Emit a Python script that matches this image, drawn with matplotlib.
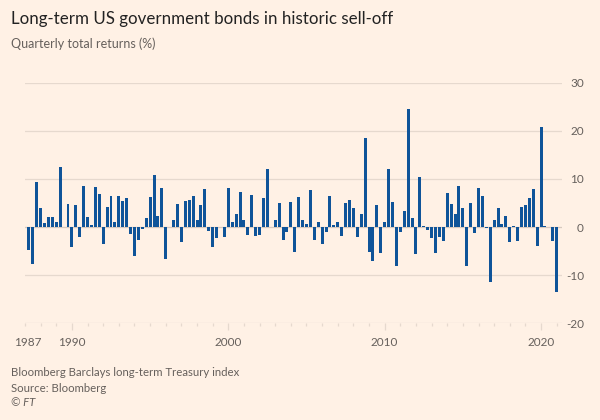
import numpy as np
import pandas as pd
import matplotlib
matplotlib.use('Agg')
import matplotlib.pyplot as plt

# Quarterly total returns (%), Bloomberg Barclays long-term Treasury index
first_quarter = '1987Q2'
returns = [
    -4.8, -7.6, 9.4, 4.0, 0.8, 2.1, 2.1, 1.1, 12.4, 0.1,
    4.8, -4.2, 4.5, -2.1, 8.6, 2.1, 0.4, 8.3, 6.8, -3.5,
    4.2, 6.5, 1.0, 6.4, 5.4, 6.0, -1.4, -6.0, -2.7, -0.5,
    1.9, 6.3, 10.8, 2.4, 8.1, -6.6, 0.1, 1.5, 4.8, -3.2,
    5.5, 5.7, 6.5, 1.5, 4.6, 7.9, -0.9, -4.2, -2.3, 0.1,
    -2.0, 8.1, 1.0, 2.8, 7.2, 1.4, -1.7, 6.6, -1.9, -1.6,
    6.0, 12.1, 0.1, 1.4, 5.0, -2.6, -1.1, 5.3, -5.2, 6.3,
    1.5, 0.6, 7.7, -2.6, 1.1, -3.6, -1.0, 6.4, 0.4, 1.1,
    -1.9, 4.9, 5.7, 4.0, -2.1, 2.8, 18.6, -5.2, -7.0, 4.6,
    -5.3, 1.0, 12.1, 5.2, -8.1, -1.0, 3.4, 24.6, 1.9, -5.7,
    10.5, 0.3, -0.6, -2.3, -5.4, -2.1, -3.0, 7.1, 4.8, 2.7,
    8.6, 4.0, -8.1, 5.0, -1.3, 8.1, 6.4, -0.2, -11.5, 1.4,
    3.9, 0.6, 2.3, -3.2, 0.3, -2.8, 4.1, 4.6, 6.0, 7.9,
    -4.0, 20.8, 0.3, 0.1, -3.0, -13.5,
]
y_ticks = [-20, -10, 0, 10, 20, 30]
year_labels = [1990, 2000, 2010, 2020]

title = 'Long-term US government bonds in historic sell-off'
subtitle = 'Quarterly total returns (%)'
footer = ['Bloomberg Barclays long-term Treasury index', 'Source: Bloomberg']

BG = '#fff1e5'
BAR = '#0f5499'
GRID = '#e6d9ce'
TEXT = '#66605c'

plt.rcParams['font.family'] = ['Lato', 'DejaVu Sans']
plt.rcParams['axes.unicode_minus'] = False

# quarters as decimal years
periods = pd.period_range(first_quarter, periods=len(returns), freq='Q')
x = np.array([p.year + (p.quarter - 1) / 4 for p in periods])

fig = plt.figure(figsize=(6, 4.2), dpi=100, facecolor=BG)
ax = fig.add_axes([25 / 600, 96.7 / 420, 536.7 / 600, 240.6 / 420])
ax.set_facecolor(BG)

for v in y_ticks:
    ax.axhline(v, color='#d6c9be' if v == 0 else GRID, linewidth=0.9, zorder=0)

ax.bar(x, returns, width=0.19, color=BAR, linewidth=0, zorder=2)

ax.set_xlim(1987.0, 2021.32)
ax.set_ylim(-20, 30)
for s in ax.spines.values():
    s.set_visible(False)

# y labels on the right
ax.yaxis.tick_right()
ax.set_yticks(y_ticks)
ax.tick_params(axis='y', length=0, pad=16, labelsize=8.5, labelcolor=TEXT)
for lab in ax.get_yticklabels():
    lab.set_horizontalalignment('right')

# x ticks: every year short, decades long
ax.set_xticks(year_labels)
ax.set_xticks(np.arange(1987, 2022), minor=True)
ax.tick_params(axis='x', which='major', length=5, width=0.9, color=GRID,
               pad=5, labelsize=8.5, labelcolor=TEXT)
ax.tick_params(axis='x', which='minor', length=2.4, width=0.9, color=GRID)
ax.annotate('1987', xy=(1987.2, 0), xycoords=ax.get_xaxis_transform(),
            xytext=(0, -10), textcoords='offset points',
            ha='center', va='top', fontsize=8.5, color=TEXT)

fig.text(11 / 600, 1 - 19 / 420, title, fontsize=12.2, color='#222222', va='center')
fig.text(11 / 600, 1 - 44 / 420, subtitle, fontsize=9, color=TEXT, va='center')
fig.text(11 / 600, 1 - 373 / 420, footer[0], fontsize=8.2, color=TEXT, va='center')
fig.text(11 / 600, 1 - 388 / 420, footer[1], fontsize=8.2, color=TEXT, va='center')
fig.text(11 / 600, 1 - 403 / 420, '© FT', fontsize=8.2, color=TEXT, va='center',
         style='italic')

fig.savefig('out.png', dpi=100, facecolor=BG)
